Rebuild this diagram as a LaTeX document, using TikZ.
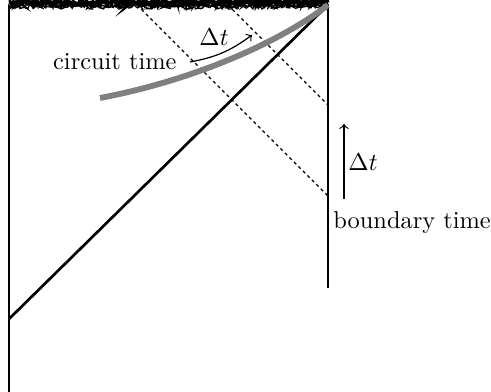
\documentclass[tikz,border=0pt]{standalone}
\usetikzlibrary{decorations.pathmorphing}
\begin{document}
\begin{tikzpicture}[x=0.41pt,y=-0.41pt,
  bnd/.style={line width=1.1pt},
  lightray/.style={line width=0.5pt,dash pattern=on 1.3pt off 1.3pt},
  sing/.style={decorate,decoration={random steps,segment length=0.5pt,amplitude=0.6pt}},
  lbl/.style={inner sep=0pt}]
\useasboundingbox (0,0) rectangle (491,392);
\pgfmathsetseed{7}
\coordinate (TL) at (9,5);
\coordinate (TR) at (328,5);
\coordinate (BL) at (9,392);
\coordinate (BR) at (328,288);
\coordinate (D) at (9,319);
\coordinate (A1) at (137,5);
\coordinate (A2) at (328,196);
\coordinate (B1) at (228,5);
\coordinate (B2) at (328,105);
\coordinate (G0) at (100,98);
% singularity
\draw[sing,line width=1.7pt] ([yshift=1.0pt]TL) -- ([yshift=1.0pt]TR);
\draw[sing,line width=0.7pt] ([yshift=-0.2pt]TL) -- ([yshift=-0.2pt]TR);
\draw[sing,line width=0.5pt,decoration={amplitude=0.9pt}] ([yshift=-0.8pt]TL) -- ([yshift=-0.8pt]TR);
% boundaries
\draw[line width=0.8pt] (TL) -- (BL);
\draw[bnd] (TR) -- (BR);
\draw[bnd] (TR) -- (D);
% light rays
\draw[lightray] (A1) -- (A2);
\draw[lightray] (B1) -- (B2);
% circuit time curve
\draw[gray,line width=2.4pt] (G0) .. controls (195,80) and (280,42) .. (TR);
% labels
\node[lbl,anchor=east] (ct) at (177,62) {circuit time};
\coordinate (c1) at (190,62);
\coordinate (c2) at (252,35);
\draw[->,line width=0.5pt] (c1) to[bend right=13] (c2);
\node[lbl] (dt1) at (214,37) {$\Delta t$};
\coordinate (r1) at (344,199);
\coordinate (r2) at (344,124);
\draw[->,line width=0.5pt] (r1) -- (r2);
\node[lbl,anchor=west] (dt2) at (348,162) {$\Delta t$};
\node[lbl,anchor=west] (bt) at (333,223) {boundary time};
\end{tikzpicture}
\end{document}
